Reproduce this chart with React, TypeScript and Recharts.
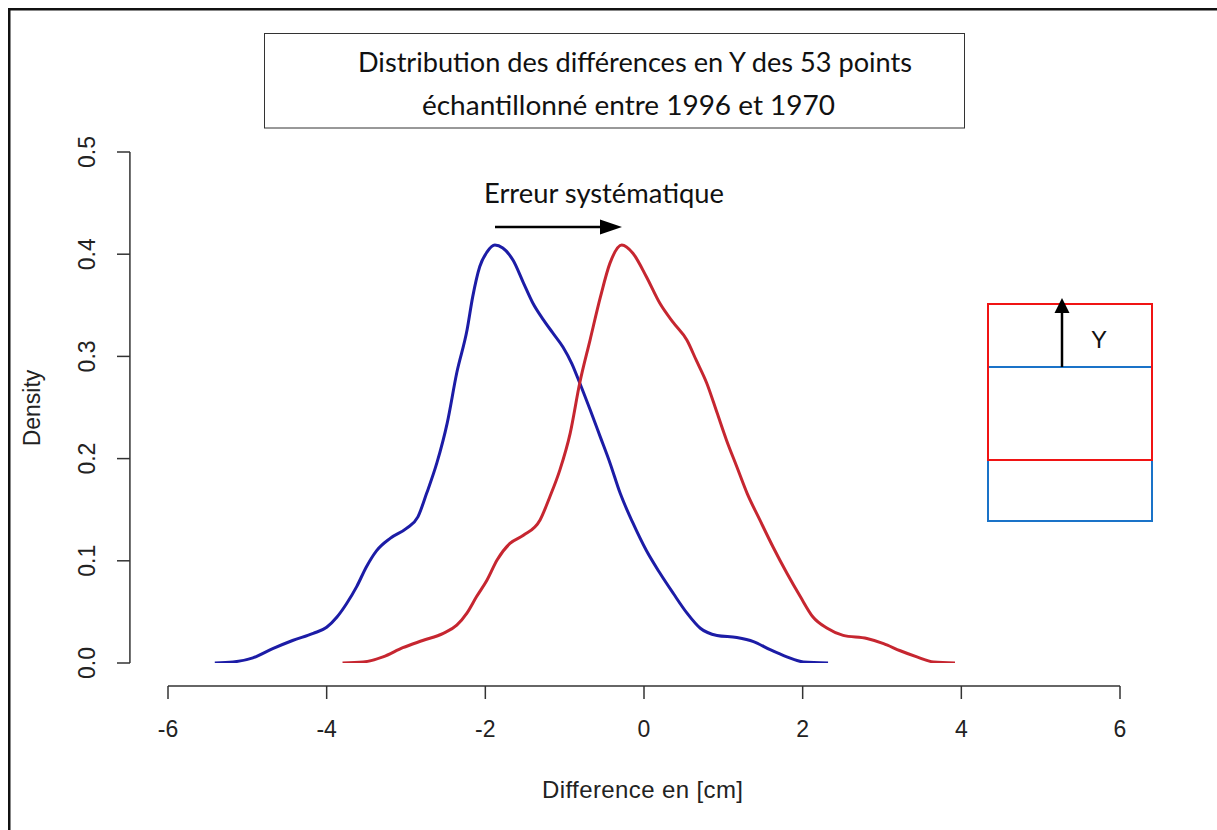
import React from "react";
import { LineChart, Line, XAxis, YAxis, ReferenceLine } from "recharts";

// ── Data ──────────────────────────────────────────────────────────────────────

// 1970 series (blue) — density estimate of the Y differences
const blueX = [
  -5.41, -5.18, -4.93, -4.68, -4.43, -4.17, -4.0, -3.87, -3.75, -3.62, -3.5, -3.37, -3.2,
  -2.99, -2.85, -2.74, -2.61, -2.48, -2.36, -2.23, -2.16, -2.07, -1.98, -1.88, -1.78, -1.65,
  -1.52, -1.4, -1.27, -1.15, -1.02, -0.91, -0.81, -0.68, -0.55, -0.43, -0.3, -0.14, 0.03,
  0.2, 0.37, 0.54, 0.71, 0.92, 1.17, 1.38, 1.59, 1.8, 2.01, 2.32,
];
const blueY = [
  0, 0.001, 0.005, 0.014, 0.022, 0.029, 0.035, 0.045, 0.058, 0.075, 0.094, 0.11, 0.122,
  0.132, 0.143, 0.166, 0.196, 0.235, 0.284, 0.326, 0.358, 0.388, 0.402, 0.409, 0.406, 0.394,
  0.372, 0.352, 0.336, 0.323, 0.309, 0.293, 0.274, 0.248, 0.221, 0.196, 0.166, 0.137, 0.11,
  0.088, 0.068, 0.049, 0.034, 0.027, 0.025, 0.021, 0.013, 0.006, 0.001, 0,
];

// 1996 series (red)
const redX = [
  -3.8, -3.54, -3.29, -3.04, -2.79, -2.53, -2.36, -2.23, -2.11, -1.98, -1.85, -1.69, -1.52,
  -1.31, -1.19, -1.06, -0.93, -0.81, -0.68, -0.55, -0.43, -0.28, -0.14, 0.03, 0.2, 0.37,
  0.54, 0.66, 0.79, 0.92, 1.04, 1.17, 1.3, 1.46, 1.63, 1.8, 1.97, 2.13, 2.31, 2.51, 2.81,
  3.02, 3.23, 3.44, 3.65, 3.92,
];
const redY = [
  0, 0.001, 0.006, 0.015, 0.022, 0.029, 0.037, 0.049, 0.065, 0.081, 0.101, 0.117, 0.125,
  0.14, 0.162, 0.189, 0.225, 0.274, 0.316, 0.358, 0.391, 0.409, 0.401, 0.378, 0.352, 0.333,
  0.316, 0.296, 0.274, 0.245, 0.218, 0.192, 0.166, 0.14, 0.113, 0.088, 0.065, 0.045, 0.034,
  0.027, 0.024, 0.019, 0.012, 0.006, 0.001, 0,
];

const xTicks = [-6, -4, -2, 0, 2, 4, 6];
const yTicks = [0, 0.1, 0.2, 0.3, 0.4, 0.5];

const titleLines = [
  "Distribution des différences en Y des 53 points",
  "échantillonné entre 1996 et 1970",
];
const arrowLabel = "Erreur systématique";
const xLabel = "Difference en [cm]";
const yLabel = "Density";

const blueData = blueX.map((x, i) => ({ x, y: blueY[i] }));
const redData = redX.map((x, i) => ({ x, y: redY[i] }));

// ── Style ─────────────────────────────────────────────────────────────────────

const W = 1217;
const H = 830;
const AXIS_FONT = "'Liberation Sans', Arial, sans-serif";
const NOTE_FONT = "Lato, 'Open Sans', sans-serif";
const AXIS_COLOR = "#333";
const BLUE = "#1c1ca6";
const RED = "#c62630";

// where R draws its detached axes (data units, outside the tick range)
const Y_AXIS_AT = -6.48;
const X_AXIS_AT = -0.0225;

function YTick({ x, y, payload }: any) {
  return (
    <text
      transform={`translate(${x - 22},${y}) rotate(-90)`}
      textAnchor="middle"
      fontSize={23}
      fontFamily={AXIS_FONT}
      fill="#222"
    >
      {Number(payload.value).toFixed(1)}
    </text>
  );
}

export default function App() {
  return (
    <div style={{ position: "absolute", left: 0, top: 0, width: W, height: H, overflow: "hidden", background: "#fff" }}>
      <LineChart width={W} height={H} margin={{ top: 152, right: 59, left: 70, bottom: 84 }}>
        <XAxis
          type="number"
          dataKey="x"
          domain={[-6, 6]}
          ticks={xTicks}
          padding={{ left: 38, right: 38 }}
          axisLine={false}
          tickLine={{ stroke: AXIS_COLOR, strokeWidth: 1.5 }}
          tickSize={13}
          tickMargin={22}
          height={60}
          tick={{ fill: "#222", fontSize: 23, fontFamily: AXIS_FONT }}
          allowDataOverflow
        />
        <YAxis
          type="number"
          dataKey="y"
          domain={[0, 0.5]}
          ticks={yTicks}
          padding={{ top: 0, bottom: 23 }}
          axisLine={false}
          tickLine={{ stroke: AXIS_COLOR, strokeWidth: 1.5 }}
          tickSize={13}
          tickMargin={0}
          width={60}
          tick={<YTick />}
          allowDataOverflow
        />
        <ReferenceLine
          segment={[{ x: -6, y: X_AXIS_AT }, { x: 6, y: X_AXIS_AT }]}
          stroke={AXIS_COLOR}
          strokeWidth={1.5}
          ifOverflow="visible"
        />
        <ReferenceLine
          segment={[{ x: Y_AXIS_AT, y: 0 }, { x: Y_AXIS_AT, y: 0.5 }]}
          stroke={AXIS_COLOR}
          strokeWidth={1.5}
          ifOverflow="visible"
        />
        <Line data={blueData} dataKey="y" type="monotone" stroke={BLUE} strokeWidth={3} dot={false} isAnimationActive={false} />
        <Line data={redData} dataKey="y" type="monotone" stroke={RED} strokeWidth={3} dot={false} isAnimationActive={false} />
      </LineChart>

      {/* annotations drawn over the plot */}
      <svg width={W} height={H} style={{ position: "absolute", left: 0, top: 0, pointerEvents: "none" }}>
        {/* outer frame */}
        <rect x={9.25} y={9.25} width={1400} height={1000} fill="none" stroke="#111" strokeWidth={2.5} />

        {/* title box */}
        <rect x={264.5} y={33.5} width={700} height={94.5} fill="#fff" stroke="#333" strokeWidth={1} />
        <text x={358} y={72} fontSize={26} fontFamily={NOTE_FONT} fill="#111" textLength={554} lengthAdjust="spacingAndGlyphs">
          {titleLines[0]}
        </text>
        <text x={422} y={115} fontSize={26} fontFamily={NOTE_FONT} fill="#111" textLength={413} lengthAdjust="spacingAndGlyphs">
          {titleLines[1]}
        </text>

        {/* systematic error arrow */}
        <text x={484} y={203} fontSize={26} fontFamily={NOTE_FONT} fill="#111" textLength={240} lengthAdjust="spacingAndGlyphs">
          {arrowLabel}
        </text>
        <line x1={495} y1={227} x2={604} y2={227} stroke="#000" strokeWidth={2.5} />
        <path d="M600,219.5 L622,227 L600,234.5 z" fill="#000" />

        {/* inset sketch of the shift in Y */}
        <rect x={988} y={367} width={164} height={154} fill="none" stroke="#1a73c8" strokeWidth={2} />
        <rect x={988} y={304} width={164} height={156} fill="none" stroke="#f01414" strokeWidth={2} />
        <line x1={1062} y1={367} x2={1062} y2={312} stroke="#000" strokeWidth={2.5} />
        <path d="M1054.5,313 L1062,298 L1069.5,313 z" fill="#000" />
        <text x={1099} y={348} fontSize={24} fontFamily={AXIS_FONT} fill="#111" textAnchor="middle">
          Y
        </text>

        {/* axis titles */}
        <text x={542} y={798} fontSize={24} fontFamily={AXIS_FONT} fill="#222" textLength={201} lengthAdjust="spacing">
          {xLabel}
        </text>
        <text transform="translate(40,408) rotate(-90)" fontSize={23} fontFamily={AXIS_FONT} fill="#222" textAnchor="middle">
          {yLabel}
        </text>
      </svg>
    </div>
  );
}
